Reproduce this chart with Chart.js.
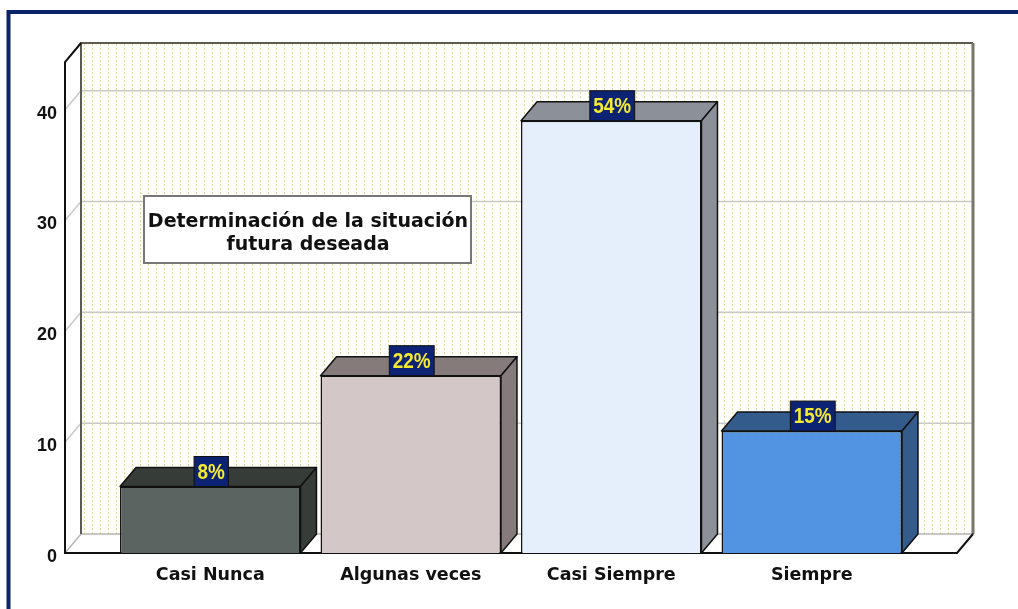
<!DOCTYPE html>
<html>
<head>
<meta charset="utf-8">
<script src="https://cdn.jsdelivr.net/npm/chart.js@4.4.1/dist/chart.umd.min.js"></script>
<style>
  body { margin: 0; background: #fff; }
  canvas { display: block; }
</style>
</head>
<body>
<canvas id="myChart" width="1018" height="609"></canvas>
<script>
// data
const categories = ["Casi Nunca", "Algunas veces", "Casi Siempre", "Siempre"];
const counts = [6, 16, 39, 11];
const percentLabels = ["8%", "22%", "54%", "15%"];
const yTicks = [0, 10, 20, 30, 40];

const frontColors = ["#5b6460", "#d3c7c7", "#e4effb", "#5294e2"];
const darkColors = ["#363c38", "#867b7b", "#8c9199", "#335b8b"];

const DX = 16, DY = -19;   // depth of the 3d box
const SIDE = 45;           // wall overhang past the category band

// dotted back wall
function makePattern() {
  const c = document.createElement("canvas");
  c.width = 8; c.height = 4;
  const g = c.getContext("2d");
  g.fillStyle = "#fefefa";
  g.fillRect(0, 0, 8, 4);
  g.fillStyle = "#e0dcaa";
  g.fillRect(4, 0, 1, 2);
  return c;
}

const box3d = {
  id: "box3d",
  beforeDraw(chart) {
    const ctx = chart.ctx;
    const a = chart.chartArea;
    const y = chart.scales.y;
    const L = a.left - SIDE, R = a.right + SIDE;
    const B = y.getPixelForValue(0), T = a.top;

    ctx.save();
    ctx.fillStyle = "#fff";
    ctx.fillRect(0, 0, chart.width, chart.height);

    // outer frame
    ctx.strokeStyle = "#0b2468";
    ctx.lineWidth = 4;
    ctx.beginPath();
    ctx.moveTo(8.5, chart.height);
    ctx.lineTo(8.5, 12);
    ctx.lineTo(chart.width, 12);
    ctx.stroke();

    // back wall
    ctx.fillStyle = ctx.createPattern(makePattern(), "repeat");
    ctx.fillRect(L + DX, T + DY, R - L, B - T);

    // left wall + floor
    ctx.fillStyle = "#fff";
    ctx.beginPath();
    ctx.moveTo(L, T); ctx.lineTo(L + DX, T + DY); ctx.lineTo(L + DX, B + DY); ctx.lineTo(L, B);
    ctx.closePath(); ctx.fill();
    ctx.beginPath();
    ctx.moveTo(L, B); ctx.lineTo(L + DX, B + DY); ctx.lineTo(R + DX, B + DY); ctx.lineTo(R, B);
    ctx.closePath(); ctx.fill();

    // grid lines
    ctx.strokeStyle = "#c9c9c9";
    ctx.lineWidth = 1.5;
    yTicks.forEach(v => {
      if (v === 0) return;
      const py = y.getPixelForValue(v);
      ctx.beginPath();
      ctx.moveTo(L, py);
      ctx.lineTo(L + DX, py + DY);
      ctx.lineTo(R + DX, py + DY);
      ctx.stroke();
    });
    ctx.strokeStyle = "#b5b5b5";
    ctx.beginPath();
    ctx.moveTo(L, B); ctx.lineTo(L + DX, B + DY); ctx.lineTo(R + DX, B + DY);
    ctx.stroke();

    // edges
    ctx.strokeStyle = "#5c5c52";
    ctx.lineWidth = 2;
    ctx.beginPath();
    ctx.moveTo(L + DX, B + DY); ctx.lineTo(L + DX, T + DY); ctx.lineTo(R + DX, T + DY);
    ctx.stroke();
    ctx.lineWidth = 3;
    ctx.strokeStyle = "#77776a";
    ctx.beginPath();
    ctx.moveTo(R + DX, T + DY); ctx.lineTo(R + DX, B + DY);
    ctx.stroke();
    ctx.strokeStyle = "#111";
    ctx.lineWidth = 2;
    ctx.beginPath();
    ctx.moveTo(L + DX, T + DY); ctx.lineTo(L, T); ctx.lineTo(L, B);
    ctx.lineTo(R, B); ctx.lineTo(R + DX, B + DY);
    ctx.stroke();

    // title box
    ctx.fillStyle = "#fff";
    ctx.fillRect(144, 196, 327, 67);
    ctx.strokeStyle = "#777";
    ctx.lineWidth = 2;
    ctx.strokeRect(144, 196, 327, 67);
    ctx.fillStyle = "#111";
    ctx.font = "bold 19px 'DejaVu Sans'";
    ctx.textAlign = "center";
    ctx.textBaseline = "middle";
    ctx.fillText("Determinación de la situación", 308, 222);
    ctx.fillText("futura deseada", 308, 245);
    ctx.restore();
  },
  beforeDatasetsDraw(chart) {
    const ctx = chart.ctx;
    ctx.save();
    ctx.strokeStyle = "#111";
    ctx.lineWidth = 1.5;
    ctx.lineJoin = "round";
    chart.getDatasetMeta(0).data.forEach((bar, i) => {
      const l = bar.x - bar.width / 2, r = bar.x + bar.width / 2;
      const t = bar.y, b = bar.base;
      ctx.fillStyle = darkColors[i];
      ctx.beginPath();
      ctx.moveTo(l, t); ctx.lineTo(l + DX, t + DY); ctx.lineTo(r + DX, t + DY); ctx.lineTo(r, t);
      ctx.closePath(); ctx.fill(); ctx.stroke();
      ctx.beginPath();
      ctx.moveTo(r, t); ctx.lineTo(r + DX, t + DY); ctx.lineTo(r + DX, b + DY); ctx.lineTo(r, b);
      ctx.closePath(); ctx.fill(); ctx.stroke();
    });
    ctx.restore();
  },
  afterDatasetsDraw(chart) {
    const ctx = chart.ctx;
    const squeeze = 0.86;  // narrow-looking digits
    ctx.save();
    ctx.font = "bold 22px 'Liberation Sans', Arial, sans-serif";
    ctx.textAlign = "center";
    ctx.textBaseline = "middle";
    chart.getDatasetMeta(0).data.forEach((bar, i) => {
      const txt = percentLabels[i];
      const w = ctx.measureText(txt).width * squeeze + 7;
      const h = 30;
      const x = bar.x + 1;
      ctx.fillStyle = "#0c2273";
      ctx.fillRect(x - w / 2, bar.y - h, w, h);
      ctx.strokeStyle = "#111";
      ctx.lineWidth = 1;
      ctx.strokeRect(x - w / 2, bar.y - h, w, h);
      ctx.save();
      ctx.translate(x, bar.y - h / 2 + 1);
      ctx.scale(squeeze, 1);
      ctx.fillStyle = "#f5ea30";
      ctx.fillText(txt, 0, 0);
      ctx.restore();
    });
    ctx.restore();
  }
};

new Chart(document.getElementById("myChart"), {
  type: "bar",
  data: {
    labels: categories,
    datasets: [{
      data: counts,
      backgroundColor: frontColors,
      borderColor: "#111",
      borderWidth: 1.5,
      barPercentage: 0.9,
      categoryPercentage: 1.0
    }]
  },
  options: {
    responsive: false,
    devicePixelRatio: 1,
    animation: false,
    layout: { padding: { top: 62, right: 106, left: 0, bottom: 0 } },
    plugins: { legend: { display: false }, tooltip: { enabled: false } },
    scales: {
      x: {
        grid: { display: false, drawTicks: false },
        border: { display: false },
        ticks: {
          color: "#111",
          padding: 12,
          font: { family: "DejaVu Sans", weight: "bold", size: 17.5 }
        },
        afterFit(scale) { scale.height = 56; }
      },
      y: {
        min: 0,
        max: 44.3,
        grid: { display: false, drawTicks: false },
        border: { display: false },
        afterBuildTicks(scale) { scale.ticks = yTicks.map(v => ({ value: v })); },
        ticks: {
          color: "#111",
          padding: 53,
          labelOffset: 4,
          font: { family: "Liberation Sans", weight: "bold", size: 18 }
        },
        afterFit(scale) {
          scale.width = 110;
          scale.paddingTop = 0;
          scale.paddingBottom = 0;
        }
      }
    }
  },
  plugins: [box3d]
});
</script>
</body>
</html>
